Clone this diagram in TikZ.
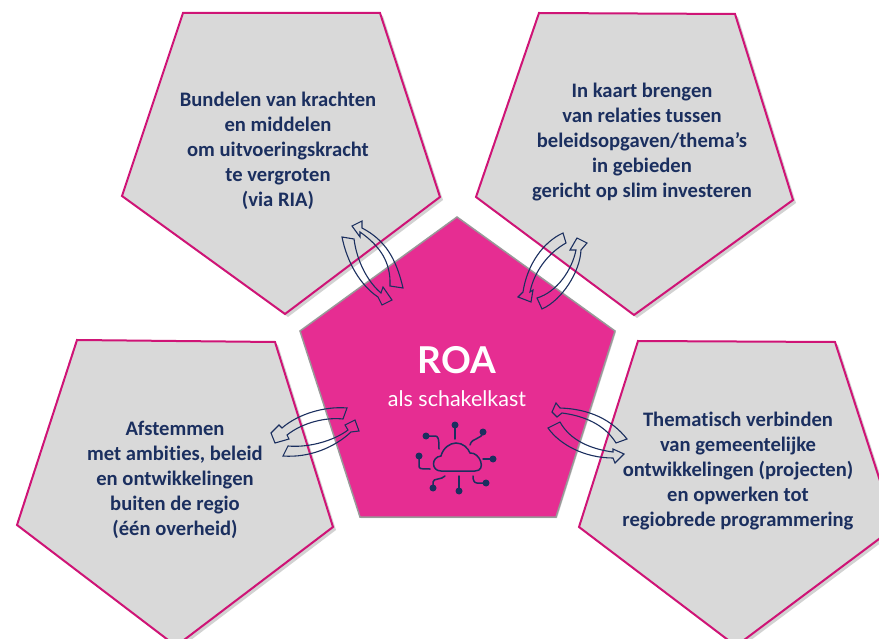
\documentclass[tikz,border=0pt]{standalone}
\usepackage{fontspec}
\setmainfont[Ligatures=NoCommon]{Carlito}
\newfontfamily\roafont{Lato}
\usetikzlibrary{shadows}
\definecolor{roapink}{HTML}{E62D92}
\definecolor{roaedge}{HTML}{CF1476}
\definecolor{roagrey}{HTML}{D9D9D9}
\definecolor{roanavy}{HTML}{1B2F5F}

\begin{document}
\begin{tikzpicture}[x=1pt,y=-1pt]
      \tikzstyle{side} = [draw=roaedge,fill=roagrey,line width=2pt,line join=miter,
        drop shadow={shadow xshift=3pt,shadow yshift=-3pt,fill=black!35,opacity=.5}]
      \tikzstyle{hub} = [fill=roapink,draw=black!40,line width=1.5pt,
        drop shadow={shadow xshift=1pt,shadow yshift=-1pt,fill=black!40,opacity=.5}]
      \tikzstyle{swap} = [draw=roanavy,line width=1.1pt,line join=miter]
      \tikzstyle{label} = [text=roanavy,font=\fontsize{20.6}{25}\selectfont\bfseries,align=center,inner sep=0pt]
      \tikzstyle{wire} = [draw=roanavy,line width=1.5pt,line cap=round]
      \useasboundingbox (0,0) rectangle (879,639);
      \fill[white] (0,0) rectangle (879,639);
      \clip (0,0) rectangle (879,639);

      % the four side blocks
      \path[side] (183,13) -- (380,13) -- (440,197) -- (285,314) -- (122,196) -- cycle;
      \path[side] (539,13) -- (735,14) -- (793,200) -- (634,315) -- (476,197) -- cycle;
      \path[side] (77,340) -- (275,342) -- (333,527) -- (176,646) -- (17,525) -- cycle;
      \path[side] (638,341) -- (835,342) -- (895,527) -- (736,646) -- (579,527) -- cycle;

      % centre block
      \path[hub] (457,217) -- (615,331) -- (556,517) -- (360,517) -- (300,331) -- cycle;

      \node[label] (bundelen) at (278,151) {Bundelen van krachten\\en middelen\\om uitvoeringskracht\\te vergroten\\(via RIA)};
      \node[label] (kaart) at (642,142) {In kaart brengen\\van relaties tussen\\beleidsopgaven/thema’s\\in gebieden\\gericht op slim investeren};
      \node[label] (afstemmen) at (175,480) {Afstemmen\\met ambities, beleid\\en ontwikkelingen\\buiten de regio\\(één overheid)};
      \node[label] (thema) at (738,471) {Thematisch verbinden\\van gemeentelijke\\ontwikkelingen (projecten)\\en opwerken tot\\regiobrede programmering};
      \node[text=white,font=\roafont\fontsize{37}{37}\selectfont\bfseries,inner sep=0pt] (roa) at (457,360) {ROA};
      \node[text=white,font=\roafont\fontsize{21.5}{22}\selectfont,inner sep=0pt] (kast) at (457,399) {als schakelkast};

      % curved arrows
      \path[swap] (342,237) -- (354,239) .. controls (357,262) and (368,282) .. (381,293) -- (383,287) -- (392,300) -- (382,305) -- (378,297) .. controls (360,285) and (347,262) .. cycle;
      \path[swap] (403,288) .. controls (396,258) and (385,240) .. (362,228) -- (362,221) -- (352,226) -- (360,237) -- (360,232) .. controls (380,246) and (391,262) .. (390,286) -- cycle;
      \path[swap] (563,233) .. controls (543,242) and (527,265) .. (523,292) -- (518,297) -- (531,302) -- (533,290) -- (530,292) .. controls (534,272) and (548,253) .. (566,243) -- cycle;
      \path[swap] (537,298) .. controls (557,292) and (572,270) .. (576,250) -- (570,250) -- (577,238) -- (587,243) -- (581,250) .. controls (580,272) and (562,300) .. (542,309) -- cycle;
      \path[swap] (347,408) .. controls (325,406) and (298,414) .. (282,428) -- (279,425) -- (271,433) -- (275,443) -- (289,439) -- (287,435) .. controls (302,423) and (325,417) .. (343,419) -- cycle;
      \path[swap] (288,446) .. controls (310,448) and (335,440) .. (348,430) -- (345,425) -- (355,420) -- (359,431) -- (351,432) .. controls (335,447) and (310,458) .. (283,456) -- cycle;
      \path[swap] (627,439) .. controls (612,420) and (590,409) .. (560,408) -- (556,403) -- (552,412) -- (557,417) -- (562,413) .. controls (585,416) and (605,425) .. (616,443) -- cycle;
      \path[swap] (560,422) .. controls (570,440) and (590,449) .. (613,452) -- (613,449) -- (624,454) -- (615,463) -- (613,458) .. controls (585,458) and (560,445) .. (548,428) -- cycle;

      % cloud icon
      \path[wire] (441,471) .. controls (431,471) and (431,457) .. (441,456)
        .. controls (443,448) and (450,443) .. (456,443) .. controls (463,443) and (468,448) .. (470,453)
        .. controls (480,452) and (487,471) .. (475,471) -- cycle;
      \path[wire] (455,425) -- (455,439);
      \path[wire] (426,436) -- (435,436) .. controls (438,436) and (439,438) .. (439,449);
      \path[wire] (483,432) .. controls (482,440) and (472,437) .. (470,445);
      \path[wire] (419,456) -- (419,466) .. controls (419,469) and (421,469) .. (430,469);
      \path[wire] (493,459) -- (483,459);
      \path[wire] (433,488) -- (433,482) .. controls (433,478) and (442,480) .. (445,476);
      \path[wire] (459,491) -- (459,476);
      \path[wire] (486,483) -- (477,483) .. controls (474,483) and (473,480) .. (473,476);
      \foreach \x/\y in {455/425,426/436,483/432,419/456,493/459,433/488,459/491,486/483}{
        \fill[roanavy] (\x,\y) circle (3.5pt);
      }
    \end{tikzpicture}
\end{document}
